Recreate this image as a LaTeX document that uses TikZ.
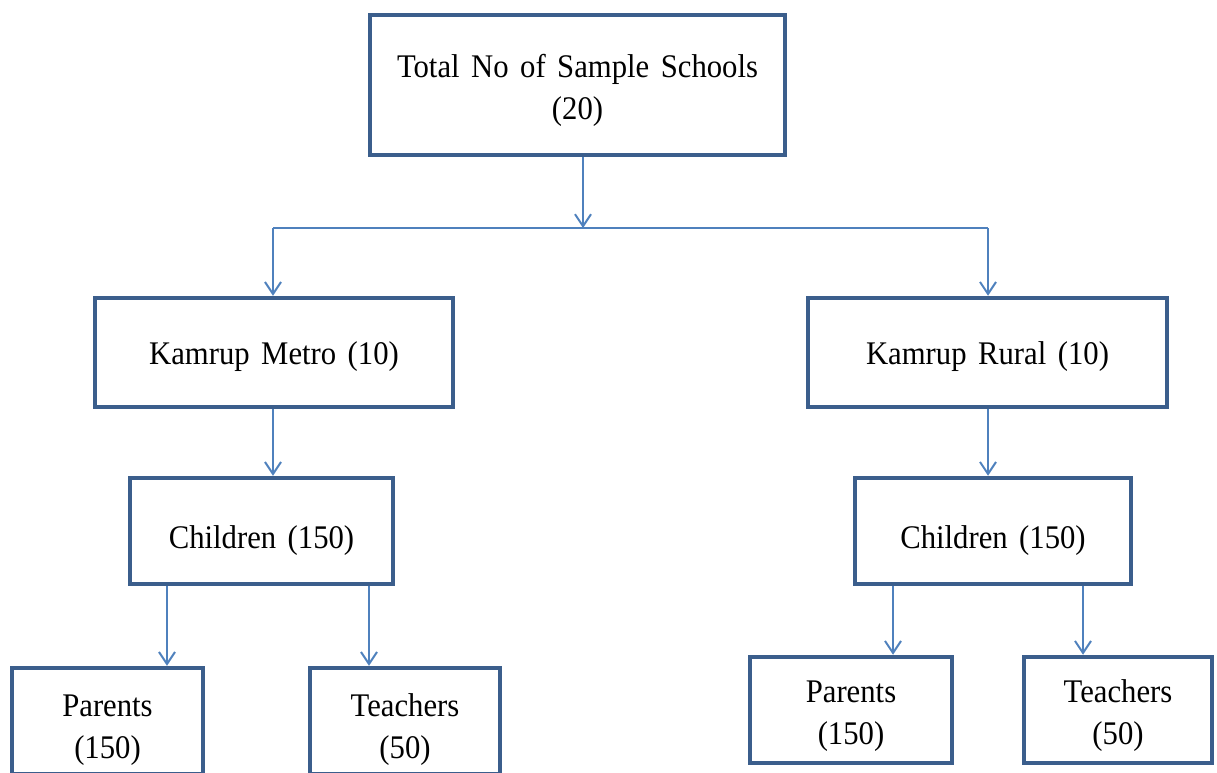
\documentclass[tikz,border=0pt]{standalone}
\usepackage{fontspec}
\setmainfont{Liberation Serif}[FakeStretch=0.93,WordSpace={1.5}]
\usetikzlibrary{arrows.meta}
\definecolor{boxblue}{RGB}{59,94,140}
\definecolor{linkblue}{RGB}{79,129,189}
\tikzset{
  boxnode/.style={draw=boxblue, line width=4.5pt, fill=white, rectangle, align=center,
    inner sep=0pt, font=\fontsize{33}{42}\selectfont, text=black},
  arr/.style={draw=linkblue, line width=2pt, -{Straight Barb[length=12pt,width=16pt,line width=2pt]}},
  link/.style={draw=linkblue, line width=2pt}
}
\begin{document}
\begin{tikzpicture}[x=1pt,y=-1pt]
\useasboundingbox (0,0) rectangle (1217,772);
\node[boxnode, text height=77pt, minimum width=415pt, minimum height=140pt] (top) at (577.5,85) {Total No of Sample Schools\\(20)};
\node[boxnode, text height=31pt, minimum width=358pt, minimum height=109pt] (km) at (274,352.5) {Kamrup Metro (10)};
\node[boxnode, text height=31pt, minimum width=359pt, minimum height=109pt] (kr) at (987.5,352.5) {Kamrup Rural (10)};
\node[boxnode, text height=43pt, minimum width=263pt, minimum height=106pt] (cl) at (261.5,531) {Children (150)};
\node[boxnode, text height=43pt, minimum width=276pt, minimum height=106pt] (cr) at (993,531) {Children (150)};
\node[boxnode, text height=81pt, minimum width=191pt, minimum height=106pt] (pl) at (107.5,721) {Parents\\(150)};
\node[boxnode, text height=81pt, minimum width=190pt, minimum height=106pt] (tl) at (405,721) {Teachers\\(50)};
\node[boxnode, text height=76pt, minimum width=202pt, minimum height=106pt] (pr) at (851,710) {Parents\\(150)};
\node[boxnode, text height=76pt, minimum width=188pt, minimum height=106pt] (tr) at (1118,710) {Teachers\\(50)};
\coordinate (j) at (583,228);
\coordinate (jl) at (273,228);
\coordinate (jr) at (988,228);
\coordinate (a1) at (167,0);
\coordinate (a2) at (369,0);
\coordinate (a3) at (893,0);
\coordinate (a4) at (1083,0);
\draw[link] (jl) -- (jr);
\draw[arr] (top.south -| j) -- (j);
\draw[arr] (jl) -- (km.north -| jl);
\draw[arr] (jr) -- (kr.north -| jr);
\draw[arr] (km.south -| jl) -- (cl.north -| jl);
\draw[arr] (kr.south -| jr) -- (cr.north -| jr);
\draw[arr] (cl.south -| a1) -- (pl.north -| a1);
\draw[arr] (cl.south -| a2) -- (tl.north -| a2);
\draw[arr] (cr.south -| a3) -- (pr.north -| a3);
\draw[arr] (cr.south -| a4) -- (tr.north -| a4);
\end{tikzpicture}
\end{document}
